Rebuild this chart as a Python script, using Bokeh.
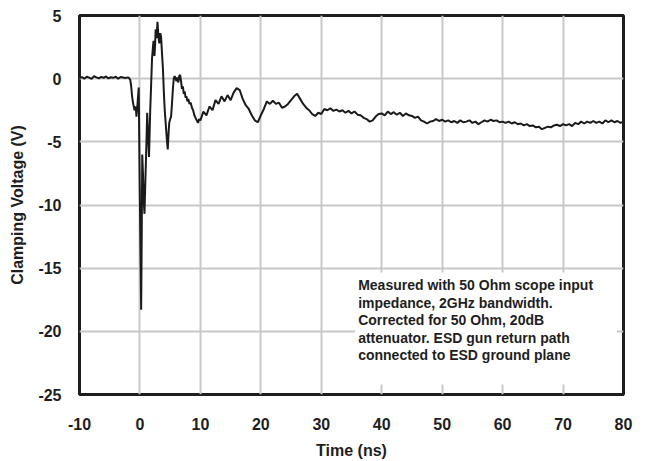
from bokeh.plotting import figure
from bokeh.models import FixedTicker, Label, BoxAnnotation, ColumnDataSource, CustomJSTickFormatter
from bokeh.embed import file_html
from bokeh.resources import INLINE

# ---- data ----
t_base = [-10.0, -9.6, -9.2, -8.8, -8.4, -8.0, -7.6, -7.2, -6.8, -6.4, -6.0,
          -5.6, -5.2, -4.8, -4.4, -4.0, -3.6, -3.2, -2.8, -2.4]
v_base = [0.05, 0.12, 0.0, 0.15, 0.08, -0.02, 0.2, 0.1, 0.03, 0.14, 0.06,
          0.18, 0.02, 0.11, 0.07, 0.16, 0.0, 0.13, 0.09, 0.05]

t_spike = [-2.0, -1.8, -1.6, -1.45, -1.3, -1.13, -0.9, -0.7, -0.58, -0.4, -0.2,
           -0.05, 0.2, 0.3, 0.38, 0.5, 0.6, 0.75, 0.9, 1.05, 1.2, 1.35, 1.5,
           1.7, 1.85, 2.0, 2.15, 2.25, 2.4, 2.5, 2.6, 2.75, 2.9, 3.05, 3.2,
           3.35, 3.5, 3.65, 3.8, 3.95, 4.1, 4.3, 4.45, 4.6, 4.75, 4.85, 5.0,
           5.15, 5.3, 5.45, 5.6, 5.75, 5.9, 6.05, 6.2, 6.35, 6.5, 6.65, 6.8,
           6.95, 7.1, 7.25, 7.4, 7.55, 7.7, 7.85, 8.0, 8.2, 8.4, 8.6, 8.8,
           9.0, 9.2, 9.4, 9.6, 9.8]
v_spike = [0.1, 0.05, -0.1, -0.6, -1.4, -1.95, -2.5, -2.2, -3.0, -2.0, -0.7,
           -8.0, -18.3, -12.0, -6.0, -7.5, -9.5, -10.7, -8.0, -5.5, -2.7, -4.5, -6.2,
           -2.5, -0.5, 1.6, 2.5, 3.0, 1.8, 2.6, 3.9, 3.2, 4.5, 3.4, 2.8,
           3.6, 3.3, 2.0, 0.8, -1.0, -2.5, -3.8, -4.8, -5.6, -4.2, -3.5, -3.2,
           -3.0, -2.0, -0.8, 0.0, 0.2, 0.0, -0.2, 0.1, -0.3, 0.2, 0.3, -0.2,
           -0.8, -0.6, -1.2, -1.0, -1.5, -1.4, -1.8, -1.6, -2.0, -1.9, -2.3, -2.5,
           -2.9, -3.1, -3.3, -3.5, -3.2]

t_tail = [10.0, 10.5, 11.0, 11.5, 12.0, 12.5, 13.0, 13.5, 14.0, 14.5, 15.0, 15.5,
          16.0, 16.5, 17.0, 17.5, 18.0, 18.5, 19.0, 19.5, 20.0, 20.5, 21.0, 21.5,
          22.0, 22.5, 23.0, 23.5, 24.0, 24.5, 25.0, 25.5, 26.0, 26.5, 27.0, 27.5,
          28.0, 28.5, 29.0, 29.5, 30.0, 30.5, 31.0, 31.5, 32.0, 32.5, 33.0, 33.5,
          34.0, 34.5, 35.0, 35.5, 36.0, 36.5, 37.0, 37.5, 38.0, 38.5, 39.0, 39.5,
          40.0, 40.5, 41.0, 41.5, 42.0, 42.5, 43.0, 43.5, 44.0, 44.5, 45.0, 45.5,
          46.0, 46.5, 47.0, 47.5, 48.0, 48.5, 49.0, 49.5, 50.0, 50.5, 51.0, 51.5,
          52.0, 52.5, 53.0, 53.5, 54.0, 54.5, 55.0, 55.5, 56.0, 56.5, 57.0, 57.5,
          58.0, 58.5, 59.0, 59.5, 60.0, 60.5, 61.0, 61.5, 62.0, 62.5, 63.0, 63.5,
          64.0, 64.5, 65.0, 65.5, 66.0, 66.5, 67.0, 67.5, 68.0, 68.5, 69.0, 69.5,
          70.0, 70.5, 71.0, 71.5, 72.0, 72.5, 73.0, 73.5, 74.0, 74.5, 75.0, 75.5,
          76.0, 76.5, 77.0, 77.5, 78.0, 78.5, 79.0, 79.5, 80.0]
v_tail = [-3.3, -2.6, -2.9, -2.2, -2.5, -1.7, -2.0, -1.4, -1.8, -1.3, -1.7, -1.1,
          -0.75, -0.9, -1.6, -2.1, -2.4, -2.9, -3.3, -3.45, -2.9, -2.4, -1.8, -2.0,
          -1.75, -2.0, -1.9, -2.3, -2.2, -2.0, -1.7, -1.4, -1.2, -1.6, -2.0, -2.3,
          -2.5, -2.8, -2.95, -2.7, -2.8, -2.4, -2.5, -2.35, -2.55, -2.45, -2.6, -2.5,
          -2.7, -2.55, -2.75, -2.6, -2.85, -2.9, -3.1, -3.2, -3.4, -3.3, -3.0, -2.8,
          -2.75, -2.9, -2.6, -2.8, -2.65, -2.85, -2.7, -2.95, -2.75, -2.9, -2.95, -3.1,
          -3.0, -3.3, -3.4, -3.55, -3.4, -3.35, -3.2, -3.35, -3.25, -3.4, -3.3, -3.45,
          -3.35, -3.5, -3.3, -3.45, -3.4, -3.3, -3.5, -3.4, -3.6, -3.45, -3.3, -3.4,
          -3.25, -3.35, -3.3, -3.45, -3.4, -3.5, -3.4, -3.55, -3.45, -3.6, -3.55, -3.7,
          -3.6, -3.75, -3.7, -3.85, -3.8, -4.0, -3.9, -3.8, -3.85, -3.7, -3.65, -3.75,
          -3.6, -3.7, -3.6, -3.75, -3.5, -3.6, -3.4, -3.55, -3.4, -3.5, -3.35, -3.5,
          -3.4, -3.55, -3.3, -3.45, -3.3, -3.45, -3.35, -3.5, -3.4]

x_ticks = [-10, 0, 10, 20, 30, 40, 50, 60, 70, 80]
y_ticks = [-25, -20, -15, -10, -5, 0, 5]

note = ("Measured with 50 Ohm scope input\n"
        "impedance, 2GHz bandwidth.\n"
        "Corrected for 50 Ohm, 20dB\n"
        "attenuator. ESD gun return path\n"
        "connected to ESD ground plane")

time = t_base + t_spike + t_tail
volt = v_base + v_spike + v_tail

FONT = "Liberation Sans"

p = figure(width=645, height=461, x_range=(-10, 80), y_range=(-25, 5),
           output_backend="svg", toolbar_location=None,
           min_border_left=79, min_border_right=22, min_border_top=15,
           min_border_bottom=66)

p.outline_line_color = "#1e1e1e"
p.outline_line_width = 3
p.background_fill_color = "white"
p.border_fill_color = "white"

for g in (p.xgrid[0], p.ygrid[0]):
    g.grid_line_color = "#c8c8c8"
    g.grid_line_width = 2
p.xaxis.ticker = FixedTicker(ticks=x_ticks)
p.yaxis.ticker = FixedTicker(ticks=y_ticks)
p.xgrid.ticker = FixedTicker(ticks=x_ticks)
p.ygrid.ticker = FixedTicker(ticks=y_ticks)

fmt = "return tick.toString();"
for ax in (p.xaxis[0], p.yaxis[0]):
    ax.formatter = CustomJSTickFormatter(code=fmt)
    ax.axis_line_color = None
    ax.major_tick_line_color = None
    ax.minor_tick_line_color = None
    ax.major_label_text_font = FONT
    ax.major_label_text_font_style = "bold"
    ax.major_label_text_font_size = "16px"
    ax.major_label_text_color = "#1e1e1e"
    ax.axis_label_text_font = FONT
    ax.axis_label_text_font_style = "bold"
    ax.axis_label_text_font_size = "16px"
    ax.axis_label_text_color = "#1e1e1e"

p.xaxis.axis_label = "Time (ns)"
p.yaxis.axis_label = "Clamping Voltage (V)"
p.xaxis.major_label_standoff = 17
p.yaxis.major_label_standoff = 12
p.xaxis.axis_label_standoff = 9
p.yaxis.axis_label_standoff = 9

src = ColumnDataSource(data=dict(t=time, v=volt))
p.line("t", "v", source=src, line_color="#1a1a1a", line_width=2)

box = BoxAnnotation(left=35.6, right=78.9, top=-15.35, bottom=-24.2,
                    fill_color="white", fill_alpha=1.0, line_color=None,
                    level="underlay")
p.add_layout(box)

lab = Label(x=36.1, y=-15.7, text=note, text_font=FONT, text_font_style="bold",
            text_font_size="14px", text_color="#1e1e1e", text_align="left",
            text_baseline="top", text_line_height=1.1)
p.add_layout(lab)

open("out.html", "w").write(file_html(p, INLINE))
